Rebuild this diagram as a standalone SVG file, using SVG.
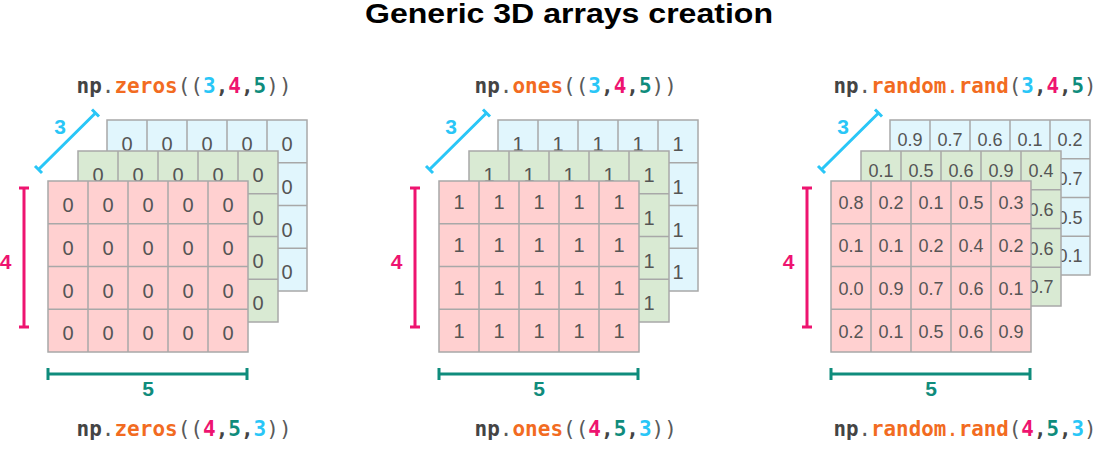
<svg xmlns="http://www.w3.org/2000/svg" xmlns:xlink="http://www.w3.org/1999/xlink" width="1097" height="449" viewBox="0 0 1097 449">
<style>
.bg{fill:#ffffff}
.title{font-family:"Liberation Sans",Arial,sans-serif;font-size:28px;font-weight:bold;fill:#000}
.grid rect{stroke:#a8a8a8;stroke-width:1.5}
.grid path{fill:none;stroke:#a8a8a8;stroke-width:1.5}
.red{fill:#ffd0d0}
.green{fill:#d9ead3}
.blue{fill:#e1f6fd}
.num{font-family:"Liberation Sans",Arial,sans-serif;font-size:20px;fill:#555;text-anchor:middle}
.num3{font-family:"Liberation Sans",Arial,sans-serif;font-size:18px;fill:#555;text-anchor:middle}
.code{font-family:"DejaVu Sans Mono","Liberation Mono",monospace;font-size:21px;font-weight:bold;fill:#444}
.code3{font-size:20.8px}
.code .p{fill:#5a5a5a;font-weight:normal}
.code .f{fill:#f26b21}
.code .fp{fill:#f26b21;font-weight:normal}
.c{fill:#29c6f7}
.m{fill:#ee1470}
.t{fill:#0f8c7c}
.dim{fill:none;stroke-width:3}
.dc{stroke:#29c6f7}
.dm{stroke:#ee1470}
.dt{stroke:#0f8c7c}
.lbl{font-family:"Liberation Sans",Arial,sans-serif;font-size:21px;font-weight:bold;text-anchor:middle}
</style>
<defs>
<g id="g171" class="grid"><rect x="0" y="0" width="200" height="171"/><path d="M40 0V171M80 0V171M120 0V171M160 0V171M0 42.75H200M0 85.5H200M0 128.25H200"/></g>
<g id="g155" class="grid"><rect x="0" y="0" width="200" height="155"/><path d="M40 0V155M80 0V155M120 0V155M160 0V155M0 38.75H200M0 77.5H200M0 116.25H200"/></g>
</defs>
<rect class="bg" x="0" y="0" width="1097" height="449"/>
<text class="title" x="569" y="23" text-anchor="middle" textLength="408" lengthAdjust="spacingAndGlyphs">Generic 3D arrays creation</text>

<g id="zeros">
<text class="code" x="76.5" y="93"><tspan>np</tspan><tspan class="p">.</tspan><tspan class="f">zeros</tspan><tspan class="p">((</tspan><tspan class="c">3</tspan><tspan>,</tspan><tspan class="m">4</tspan><tspan>,</tspan><tspan class="t">5</tspan><tspan class="p">))</tspan></text>
<g id="zeros-blue">
<use xlink:href="#g171" href="#g171" x="107" y="120" class="blue"/>
<text class="num" x="127" y="151">0</text><text class="num" x="167" y="151">0</text><text class="num" x="207" y="151">0</text><text class="num" x="247" y="151">0</text><text class="num" x="287" y="151">0</text>
<text class="num" x="287" y="193.75">0</text><text class="num" x="287" y="236.5">0</text><text class="num" x="287" y="279.25">0</text>
</g>
<g id="zeros-green">
<use xlink:href="#g171" href="#g171" x="78" y="151" class="green"/>
<text class="num" x="98" y="182">0</text><text class="num" x="138" y="182">0</text><text class="num" x="178" y="182">0</text><text class="num" x="218" y="182">0</text><text class="num" x="258" y="182">0</text>
<text class="num" x="258" y="224.75">0</text><text class="num" x="258" y="267.5">0</text><text class="num" x="258" y="310.25">0</text>
</g>
<g id="zeros-red">
<use xlink:href="#g171" href="#g171" x="48" y="181" class="red"/>
<text class="num" x="68" y="212">0</text><text class="num" x="108" y="212">0</text><text class="num" x="148" y="212">0</text><text class="num" x="188" y="212">0</text><text class="num" x="228" y="212">0</text>
<text class="num" x="68" y="254.75">0</text><text class="num" x="108" y="254.75">0</text><text class="num" x="148" y="254.75">0</text><text class="num" x="188" y="254.75">0</text><text class="num" x="228" y="254.75">0</text>
<text class="num" x="68" y="297.5">0</text><text class="num" x="108" y="297.5">0</text><text class="num" x="148" y="297.5">0</text><text class="num" x="188" y="297.5">0</text><text class="num" x="228" y="297.5">0</text>
<text class="num" x="68" y="340.25">0</text><text class="num" x="108" y="340.25">0</text><text class="num" x="148" y="340.25">0</text><text class="num" x="188" y="340.25">0</text><text class="num" x="228" y="340.25">0</text>
</g>
<text class="code" x="76.5" y="435.5"><tspan>np</tspan><tspan class="p">.</tspan><tspan class="f">zeros</tspan><tspan class="p">((</tspan><tspan class="m">4</tspan><tspan>,</tspan><tspan class="t">5</tspan><tspan>,</tspan><tspan class="c">3</tspan><tspan class="p">))</tspan></text>
</g>

<g id="ones">
<text class="code" x="474.5" y="93"><tspan>np</tspan><tspan class="p">.</tspan><tspan class="f">ones</tspan><tspan class="p">((</tspan><tspan class="c">3</tspan><tspan>,</tspan><tspan class="m">4</tspan><tspan>,</tspan><tspan class="t">5</tspan><tspan class="p">))</tspan></text>
<g id="ones-blue">
<use xlink:href="#g171" href="#g171" x="498" y="120" class="blue"/>
<text class="num" x="518" y="151">1</text><text class="num" x="558" y="151">1</text><text class="num" x="598" y="151">1</text><text class="num" x="638" y="151">1</text><text class="num" x="678" y="151">1</text>
<text class="num" x="678" y="193.75">1</text><text class="num" x="678" y="236.5">1</text><text class="num" x="678" y="279.25">1</text>
</g>
<g id="ones-green">
<use xlink:href="#g171" href="#g171" x="469" y="151" class="green"/>
<text class="num" x="489" y="182">1</text><text class="num" x="529" y="182">1</text><text class="num" x="569" y="182">1</text><text class="num" x="609" y="182">1</text><text class="num" x="649" y="182">1</text>
<text class="num" x="649" y="224.75">1</text><text class="num" x="649" y="267.5">1</text><text class="num" x="649" y="310.25">1</text>
</g>
<g id="ones-red">
<use xlink:href="#g171" href="#g171" x="439" y="181" class="red"/>
<text class="num" x="459" y="209.3">1</text><text class="num" x="499" y="209.3">1</text><text class="num" x="539" y="209.3">1</text><text class="num" x="579" y="209.3">1</text><text class="num" x="619" y="209.3">1</text>
<text class="num" x="459" y="252.05">1</text><text class="num" x="499" y="252.05">1</text><text class="num" x="539" y="252.05">1</text><text class="num" x="579" y="252.05">1</text><text class="num" x="619" y="252.05">1</text>
<text class="num" x="459" y="294.8">1</text><text class="num" x="499" y="294.8">1</text><text class="num" x="539" y="294.8">1</text><text class="num" x="579" y="294.8">1</text><text class="num" x="619" y="294.8">1</text>
<text class="num" x="459" y="337.55">1</text><text class="num" x="499" y="337.55">1</text><text class="num" x="539" y="337.55">1</text><text class="num" x="579" y="337.55">1</text><text class="num" x="619" y="337.55">1</text>
</g>
<text class="code" x="474.5" y="435.5"><tspan>np</tspan><tspan class="p">.</tspan><tspan class="f">ones</tspan><tspan class="p">((</tspan><tspan class="m">4</tspan><tspan>,</tspan><tspan class="t">5</tspan><tspan>,</tspan><tspan class="c">3</tspan><tspan class="p">))</tspan></text>
</g>

<g id="random">
<text class="code code3" x="833.5" y="93"><tspan>np</tspan><tspan class="p">.</tspan><tspan class="f">random</tspan><tspan class="fp">.</tspan><tspan class="f">rand</tspan><tspan class="p">(</tspan><tspan class="c">3</tspan><tspan>,</tspan><tspan class="m">4</tspan><tspan>,</tspan><tspan class="t">5</tspan><tspan class="p">)</tspan></text>
<g id="random-blue">
<use xlink:href="#g155" href="#g155" x="890" y="120" class="blue"/>
<text class="num3" x="910" y="146">0.9</text><text class="num3" x="950" y="146">0.7</text><text class="num3" x="990" y="146">0.6</text><text class="num3" x="1030" y="146">0.1</text><text class="num3" x="1070" y="146">0.2</text>
<text class="num3" x="1070" y="184.75">0.7</text><text class="num3" x="1070" y="223.5">0.5</text><text class="num3" x="1070" y="262.25">0.1</text>
</g>
<g id="random-green">
<use xlink:href="#g155" href="#g155" x="861" y="151" class="green"/>
<text class="num3" x="881" y="177">0.1</text><text class="num3" x="921" y="177">0.5</text><text class="num3" x="961" y="177">0.6</text><text class="num3" x="1001" y="177">0.9</text><text class="num3" x="1041" y="177">0.4</text>
<text class="num3" x="1041" y="215.75">0.6</text><text class="num3" x="1041" y="254.5">0.6</text><text class="num3" x="1041" y="293.25">0.7</text>
</g>
<g id="random-red">
<use xlink:href="#g171" href="#g171" x="831" y="181" class="red"/>
<text class="num3" x="851" y="209.3">0.8</text><text class="num3" x="891" y="209.3">0.2</text><text class="num3" x="931" y="209.3">0.1</text><text class="num3" x="971" y="209.3">0.5</text><text class="num3" x="1011" y="209.3">0.3</text>
<text class="num3" x="851" y="252.05">0.1</text><text class="num3" x="891" y="252.05">0.1</text><text class="num3" x="931" y="252.05">0.2</text><text class="num3" x="971" y="252.05">0.4</text><text class="num3" x="1011" y="252.05">0.2</text>
<text class="num3" x="851" y="294.8">0.0</text><text class="num3" x="891" y="294.8">0.9</text><text class="num3" x="931" y="294.8">0.7</text><text class="num3" x="971" y="294.8">0.6</text><text class="num3" x="1011" y="294.8">0.1</text>
<text class="num3" x="851" y="337.55">0.2</text><text class="num3" x="891" y="337.55">0.1</text><text class="num3" x="931" y="337.55">0.5</text><text class="num3" x="971" y="337.55">0.6</text><text class="num3" x="1011" y="337.55">0.9</text>
</g>
<text class="code code3" x="833.5" y="435.5"><tspan>np</tspan><tspan class="p">.</tspan><tspan class="f">random</tspan><tspan class="fp">.</tspan><tspan class="f">rand</tspan><tspan class="p">(</tspan><tspan class="m">4</tspan><tspan>,</tspan><tspan class="t">5</tspan><tspan>,</tspan><tspan class="c">3</tspan><tspan class="p">)</tspan></text>
</g>

<g id="connectors">
<g id="dims-zeros">
<path class="dim dc" d="M38.5 169.5L95.5 113M35 166L42 173M92 109.5L99 116.5"/>
<path class="dim dm" d="M24 188V327M19 188H29M19 327H29"/>
<path class="dim dt" d="M48 374H247M48 368V380M247 368V380"/>
</g>
<g id="dims-ones" transform="translate(391 0)">
<path class="dim dc" d="M38.5 169.5L95.5 113M35 166L42 173M92 109.5L99 116.5"/>
<path class="dim dm" d="M24 188V327M19 188H29M19 327H29"/>
<path class="dim dt" d="M48 374H247M48 368V380M247 368V380"/>
</g>
<g id="dims-random" transform="translate(783 0)">
<path class="dim dc" d="M38.5 169.5L95.5 113M35 166L42 173M92 109.5L99 116.5"/>
<path class="dim dm" d="M24 188V327M19 188H29M19 327H29"/>
<path class="dim dt" d="M48 374H247M48 368V380M247 368V380"/>
</g>
</g>
<g id="dim-labels">
<text class="lbl c" x="60" y="134">3</text><text class="lbl m" x="5.5" y="269">4</text><text class="lbl t" x="148" y="396">5</text>
<text class="lbl c" x="451" y="134">3</text><text class="lbl m" x="396.5" y="269">4</text><text class="lbl t" x="539" y="396">5</text>
<text class="lbl c" x="843" y="134">3</text><text class="lbl m" x="788.5" y="269">4</text><text class="lbl t" x="931" y="396">5</text>
</g>
</svg>
